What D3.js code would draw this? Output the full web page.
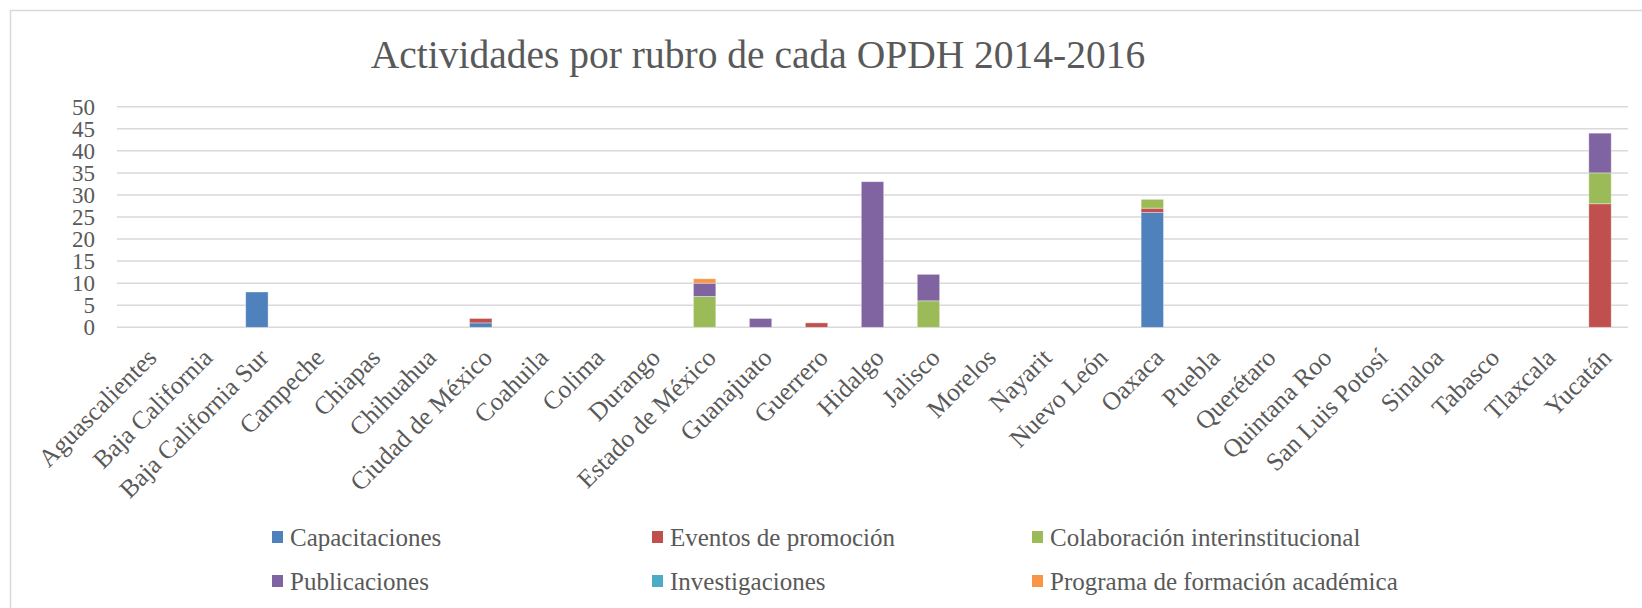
<!DOCTYPE html>
<html><head><meta charset="utf-8">
<script src="https://cdn.jsdelivr.net/npm/d3@7"></script>
<style>html,body{margin:0;padding:0;background:#fff;}svg{display:block;}</style>
</head><body>
<svg id="chart" width="1642" height="608"></svg>
<script>
const categories = ["Aguascalientes","Baja California","Baja California Sur","Campeche","Chiapas","Chihuahua","Ciudad de México","Coahuila","Colima","Durango","Estado de México","Guanajuato","Guerrero","Hidalgo","Jalisco","Morelos","Nayarit","Nuevo León","Oaxaca","Puebla","Querétaro","Quintana Roo","San Luis Potosí","Sinaloa","Tabasco","Tlaxcala","Yucatán"];
const seriesNames = ["Capacitaciones","Eventos de promoción","Colaboración interinstitucional","Publicaciones","Investigaciones","Programa de formación académica"];
const capacitaciones   = [0,0,8,0,0,0,1,0,0,0,0,0,0,0,0,0,0,0,26,0,0,0,0,0,0,0,0];
const eventos          = [0,0,0,0,0,0,1,0,0,0,0,0,1,0,0,0,0,0,1,0,0,0,0,0,0,0,28];
const colaboracion     = [0,0,0,0,0,0,0,0,0,0,7,0,0,0,6,0,0,0,2,0,0,0,0,0,0,0,7];
const publicaciones    = [0,0,0,0,0,0,0,0,0,0,3,2,0,33,6,0,0,0,0,0,0,0,0,0,0,0,9];
const investigaciones  = [0,0,0,0,0,0,0,0,0,0,0,0,0,0,0,0,0,0,0,0,0,0,0,0,0,0,0];
const programa         = [0,0,0,0,0,0,0,0,0,0,1,0,0,0,0,0,0,0,0,0,0,0,0,0,0,0,0];
const yTicks = [0,5,10,15,20,25,30,35,40,45,50];
const colors = ["#4F81BD","#C0504D","#9BBB59","#8064A2","#4BACC6","#F79646"];
const title = "Actividades por rubro de cada OPDH 2014-2016";

const seriesValues = [capacitaciones, eventos, colaboracion, publicaciones, investigaciones, programa];
const keys = seriesNames;
const rows = categories.map((c,i)=>{const r={cat:c}; keys.forEach((k,j)=>r[k]=seriesValues[j][i]); return r;});

const FONT = "'Liberation Serif', 'DejaVu Serif', serif";
const TXT = "#595959";
const svg = d3.select("#chart");

// frame
svg.append("rect").attr("x",10.5).attr("y",10.5).attr("width",1700).attr("height",700)
  .attr("fill","#fff").attr("stroke","#d9d9d9").attr("stroke-width",1.5);

const x = d3.scaleBand().domain(categories).range([117,1628]).paddingInner(0.6).paddingOuter(0.3);
const y = d3.scaleLinear().domain([0,50]).range([327.3,106.7]);

// gridlines
svg.append("g").selectAll("line").data(yTicks).join("line")
  .attr("x1",117).attr("x2",1628).attr("y1",d=>y(d)).attr("y2",d=>y(d))
  .attr("stroke","#d9d9d9").attr("stroke-width",1.5);

// y axis
const ya = svg.append("g").attr("transform","translate(117,0)")
  .call(d3.axisLeft(y).tickValues(yTicks).tickSize(0).tickPadding(22));
ya.select(".domain").remove();
ya.selectAll("text").attr("font-family",FONT).attr("font-size",23).attr("fill",TXT);

// stacked bars
const stack = d3.stack().keys(keys)(rows);
svg.append("g").selectAll("g").data(stack).join("g").attr("fill",(d,i)=>colors[i])
  .selectAll("rect").data(d=>d.filter(p=>p[1]-p[0]>0)).join("rect")
  .attr("x",d=>x(d.data.cat)).attr("width",x.bandwidth())
  .attr("y",d=>y(d[1])).attr("height",d=>y(d[0])-y(d[1]))
  .attr("stroke","#ffffff").attr("stroke-opacity",0.45).attr("stroke-width",0.8);

// x axis
const xa = svg.append("g").attr("transform","translate(0,327.3)")
  .call(d3.axisBottom(x).tickSize(0).tickPadding(0));
xa.select(".domain").remove();
xa.selectAll("text")
  .attr("font-family",FONT).attr("font-size",25.5).attr("fill",TXT)
  .attr("text-anchor","end").attr("dy",0)
  .attr("transform","translate(13,32) rotate(-45)");

// title
svg.append("text").attr("x",758).attr("y",68).attr("text-anchor","middle")
  .attr("font-family",FONT).attr("font-size",39.5).attr("fill",TXT).text(title);

// legend
const legX = [272,652,1032], legY = [537,581];
const lg = svg.append("g");
seriesNames.forEach((n,i)=>{
  const cx = legX[i%3], cy = legY[Math.floor(i/3)];
  lg.append("rect").attr("x",cx).attr("y",cy-6).attr("width",11).attr("height",12).attr("fill",colors[i]);
  lg.append("text").attr("x",cx+18).attr("y",cy).attr("dy","0.35em")
    .attr("font-family",FONT).attr("font-size",25).attr("fill",TXT).text(n);
});
</script>
</body></html>
